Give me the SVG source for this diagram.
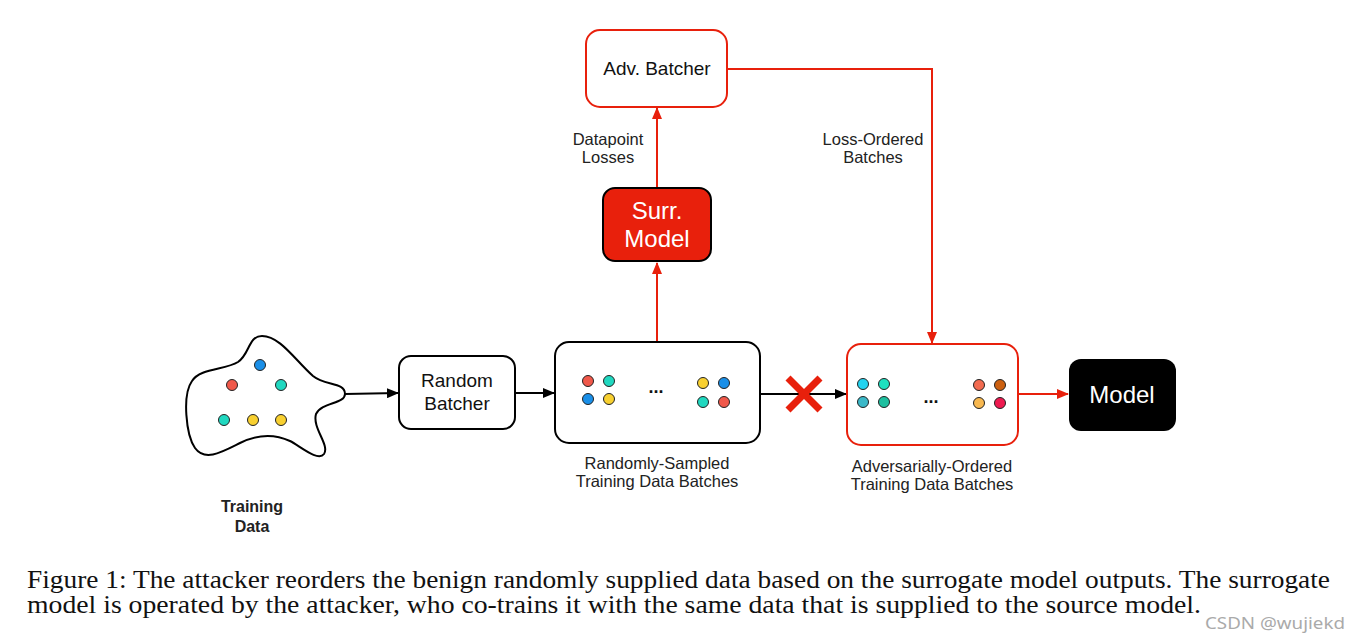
<svg xmlns="http://www.w3.org/2000/svg" width="1360" height="644" viewBox="0 0 1360 644">
<defs>
<style>
.lbl{font-family:"Liberation Sans",Arial,Helvetica,sans-serif;font-size:16.5px;fill:#222;text-anchor:middle}
.box{font-family:"Liberation Sans",Arial,Helvetica,sans-serif;font-size:19px;fill:#111;text-anchor:middle}
.big{font-family:"Liberation Sans",Arial,Helvetica,sans-serif;font-size:24px;fill:#fff;text-anchor:middle}
.bold{font-family:"Liberation Sans",Arial,Helvetica,sans-serif;font-size:16px;font-weight:bold;fill:#222;text-anchor:middle}
.dots{font-family:"Liberation Sans",Arial,sans-serif;font-size:18px;font-weight:bold;fill:#111;text-anchor:middle}
.cap{font-family:"Liberation Serif","Times New Roman",Times,serif;font-size:25px;fill:#111}
.dot{stroke:#222;stroke-width:1}
.blk{stroke:#000;stroke-width:2;fill:none}
.red{stroke:#e8200c;stroke-width:2;fill:none}
</style>
<marker id="ab" markerUnits="userSpaceOnUse" markerWidth="12" markerHeight="10" refX="11" refY="5" orient="auto"><path d="M0,0 L12,5 L0,10 Z" fill="#000"/></marker>
<marker id="ar" markerUnits="userSpaceOnUse" markerWidth="12" markerHeight="10" refX="11" refY="5" orient="auto"><path d="M0,0 L12,5 L0,10 Z" fill="#e8200c"/></marker>
</defs>
<rect width="1360" height="644" fill="#fff"/>

<g id="connectors">
<path class="blk" d="M345,394 L398,393" marker-end="url(#ab)"/>
<path class="blk" d="M515,393 L554,393" marker-end="url(#ab)"/>
<path class="blk" d="M761,394 L846,394" marker-end="url(#ab)"/>
<path class="red" d="M657,342 L657,263" marker-end="url(#ar)"/>
<path class="red" d="M657,188 L657,108" marker-end="url(#ar)"/>
<path class="red" d="M727,69 L932,69 L932,343" marker-end="url(#ar)"/>
<path class="red" d="M1018,394 L1068,394" marker-end="url(#ar)"/>
<g id="cross" stroke="#e8200c" stroke-width="7">
<line x1="788" y1="378" x2="820" y2="410"/>
<line x1="820" y1="378" x2="788" y2="410"/>
</g>
<text class="lbl" x="608" y="145">Datapoint</text>
<text class="lbl" x="608" y="163">Losses</text>
<text class="lbl" x="873" y="145">Loss-Ordered</text>
<text class="lbl" x="873" y="163">Batches</text>
</g>

<g id="training-data">
<path d="M262,336 C280,336 295,360 313,376 C325,386 345,382 345,394 C345,404 322,402 316,414 C312,428 330,445 324,454 C318,462 300,446 290,441 C275,434 258,434 240,443 C222,452 205,462 195,448 C186,435 182,395 192,381 C200,368 225,370 238,362 C250,354 248,336 262,336 Z" fill="#fff" stroke="#000" stroke-width="2"/>
<circle class="dot" cx="260" cy="365" r="5.5" fill="#1a8fe8"/>
<circle class="dot" cx="232" cy="385" r="5.5" fill="#f0584a"/>
<circle class="dot" cx="281" cy="385" r="5.5" fill="#20d8c0"/>
<circle class="dot" cx="224" cy="420" r="5.5" fill="#20d8c0"/>
<circle class="dot" cx="253" cy="420" r="5.5" fill="#f8d030"/>
<circle class="dot" cx="281" cy="420" r="5.5" fill="#f8d030"/>
<text class="bold" x="252" y="512">Training</text>
<text class="bold" x="252" y="532">Data</text>
</g>

<g id="random-batcher">
<rect x="399" y="356" width="116" height="73" rx="12" fill="#fff" stroke="#000" stroke-width="2"/>
<text class="box" x="457" y="387">Random</text>
<text class="box" x="457" y="410">Batcher</text>
</g>

<g id="random-batches">
<rect x="555" y="342" width="205" height="101" rx="14" fill="#fff" stroke="#000" stroke-width="2"/>
<circle class="dot" cx="588" cy="381" r="5.5" fill="#f0584a"/>
<circle class="dot" cx="609" cy="381" r="5.5" fill="#20d8c0"/>
<circle class="dot" cx="588" cy="399" r="5.5" fill="#1a8fe8"/>
<circle class="dot" cx="609" cy="399" r="5.5" fill="#f8d030"/>
<circle class="dot" cx="703" cy="383" r="5.5" fill="#f8d030"/>
<circle class="dot" cx="724" cy="383" r="5.5" fill="#1a8fe8"/>
<circle class="dot" cx="703" cy="402" r="5.5" fill="#20d8c0"/>
<circle class="dot" cx="724" cy="402" r="5.5" fill="#f0584a"/>
<text class="dots" x="656" y="393">...</text>
<text class="lbl" x="657" y="469">Randomly-Sampled</text>
<text class="lbl" x="657" y="487">Training Data Batches</text>
</g>

<g id="surr-model">
<rect x="603" y="188" width="108" height="73" rx="12" fill="#e8200c" stroke="#000" stroke-width="2"/>
<text class="big" x="657" y="219">Surr.</text>
<text class="big" x="657" y="247">Model</text>
</g>

<g id="adv-batcher">
<rect x="586" y="30" width="141" height="77" rx="14" fill="#fff" stroke="#e8200c" stroke-width="2"/>
<text class="box" x="657" y="75">Adv. Batcher</text>
</g>

<g id="adv-batches">
<rect x="847" y="344" width="171" height="101" rx="14" fill="#fff" stroke="#e8200c" stroke-width="2"/>
<circle class="dot" cx="863" cy="384" r="5.5" fill="#22d3f0"/>
<circle class="dot" cx="884" cy="384" r="5.5" fill="#1de0c0"/>
<circle class="dot" cx="863" cy="402" r="5.5" fill="#3bb8c8"/>
<circle class="dot" cx="884" cy="402" r="5.5" fill="#1ec0a0"/>
<circle class="dot" cx="979" cy="385" r="5.5" fill="#f26b50"/>
<circle class="dot" cx="1000" cy="385" r="5.5" fill="#cc6010"/>
<circle class="dot" cx="979" cy="403" r="5.5" fill="#f8b850"/>
<circle class="dot" cx="1000" cy="403" r="5.5" fill="#ee1a50"/>
<text class="dots" x="931" y="403">...</text>
<text class="lbl" x="932" y="472">Adversarially-Ordered</text>
<text class="lbl" x="932" y="490">Training Data Batches</text>
</g>

<g id="model">
<rect x="1069" y="359" width="107" height="72" rx="12" fill="#000"/>
<text class="big" x="1122" y="403">Model</text>
</g>

<g id="caption">
<text class="cap" x="27" y="588" textLength="1303" lengthAdjust="spacingAndGlyphs">Figure 1: The attacker reorders the benign randomly supplied data based on the surrogate model outputs. The surrogate</text>
<text class="cap" x="27" y="613" textLength="1174" lengthAdjust="spacingAndGlyphs">model is operated by the attacker, who co-trains it with the same data that is supplied to the source model.</text>
<text x="1205" y="629" textLength="140" lengthAdjust="spacingAndGlyphs" style="font-family:'Noto Sans','Liberation Sans',sans-serif;font-size:17px;fill:#aaa">CSDN @wujiekd</text>
</g>
</svg>
